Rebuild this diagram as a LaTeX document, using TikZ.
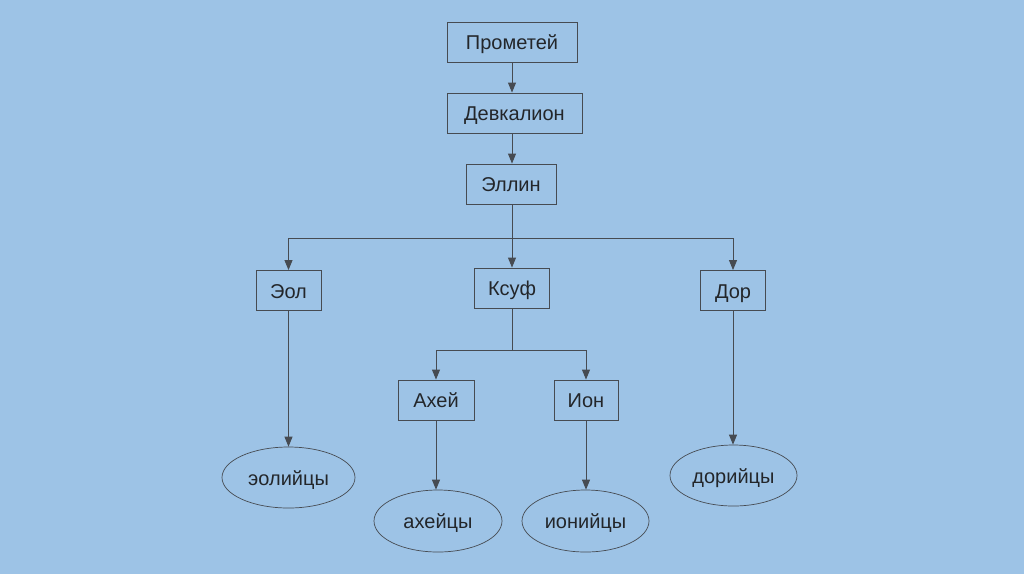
\documentclass[tikz,border=0pt]{standalone}
\usepackage{fontspec}
\setmainfont{Liberation Sans}
\usetikzlibrary{arrows.meta,shapes.geometric}
\definecolor{bg}{RGB}{157,195,230}
\definecolor{ln}{RGB}{70,75,82}
\definecolor{tx}{RGB}{35,38,42}
\begin{document}
\begin{tikzpicture}[x=1pt,y=-1pt,
  box/.style={draw=ln,line width=0.9pt,rectangle,minimum height=40pt,inner sep=0pt,text height=15.5pt,text depth=0pt,text=tx,font=\fontsize{20}{20}\selectfont},
  oval/.style={draw=ln,line width=0.7pt,ellipse,inner sep=0pt,text height=15.5pt,text depth=0pt,text=tx,font=\fontsize{20}{20}\selectfont},
  conn/.style={draw=ln,line width=0.9pt},
  arr/.style={conn,-{Triangle[length=10pt,width=8pt]}}]
\fill[bg] (0,0) rectangle (1024,574);
\useasboundingbox (0,0) rectangle (1024,574);
\node[box,minimum width=130pt] (prom) at (512,42) {Прометей};
\node[box,minimum width=135pt] (devk) at (514.5,113) {Девкалион};
\node[box,minimum width=90pt] (ell) at (511,184) {Эллин};
\node[box,minimum width=65pt] (eol) at (288.5,290.5) {Эол};
\node[box,minimum width=75pt] (ksuf) at (512,288) {Ксуф};
\node[box,minimum width=65pt] (dor) at (733,290.5) {Дор};
\node[box,minimum width=76pt] (ahei) at (436,400) {Ахей};
\node[box,minimum width=64pt] (ion) at (586,400) {Ион};
\node[oval,minimum width=133pt,minimum height=61pt] (eoly) at (288.5,477.5) {эолийцы};
\node[oval,minimum width=128pt,minimum height=62pt] (ahy) at (438,521) {ахейцы};
\node[oval,minimum width=127pt,minimum height=62pt] (iony) at (585.5,521) {ионийцы};
\node[oval,minimum width=127pt,minimum height=61pt] (dory) at (733.5,475.5) {дорийцы};
\coordinate (j1) at (512,238);
\coordinate (j2) at (512,350);
\draw[arr] (prom.south) -- (prom.south |- devk.north);
\draw[arr] (devk.south -| prom.south) -- (ell.north -| prom.south);
\draw[conn] (ell.south -| j1) -- (j1);
\draw[arr] (j1) -| (eol.north);
\draw[arr] (j1) -| (dor.north);
\draw[arr] (j1) -- (ksuf.north -| j1);
\draw[conn] (ksuf.south) -- (j2);
\draw[arr] (j2) -| (ahei.north);
\draw[arr] (j2) -| (ion.north);
\draw[arr] (eol.south) -- (eoly.north);
\draw[arr] (ahei.south) -- (ahei.south |- ahy.north);
\draw[arr] (ion.south) -- (ion.south |- iony.north);
\draw[arr] (dor.south) -- (dor.south |- dory.north);
\end{tikzpicture}
\end{document}
